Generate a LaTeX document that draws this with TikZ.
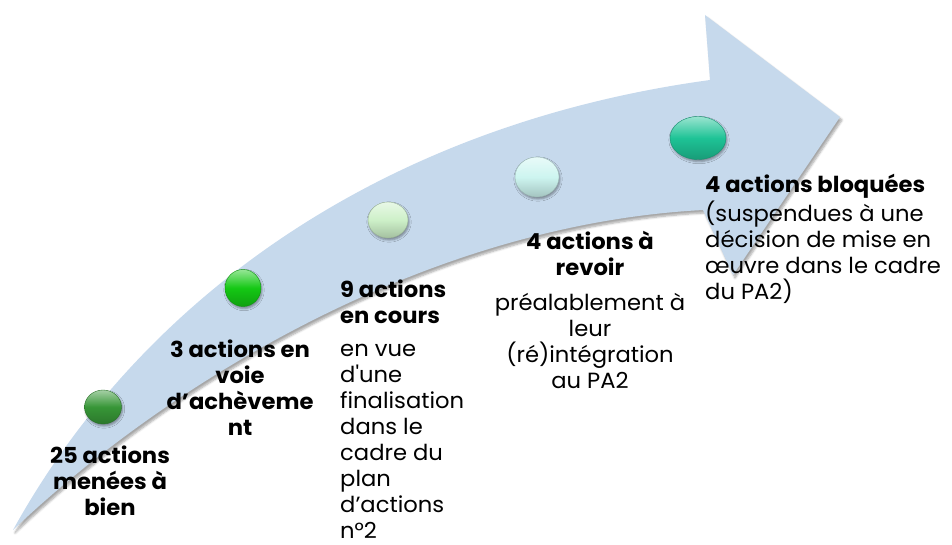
\documentclass[tikz,border=0pt]{standalone}
\usepackage{fontspec}
\setmainfont{Poppins}[Ligatures=TeXOff, FakeStretch=1.03]
\usetikzlibrary{shapes.geometric,shadows.blur}
\definecolor{arrowblue}{RGB}{198,217,236}
\definecolor{ballA}{RGB}{55,150,55}
\definecolor{ballB}{RGB}{20,200,20}
\definecolor{ballC}{RGB}{205,240,200}
\definecolor{ballD}{RGB}{205,245,240}
\definecolor{ballE}{RGB}{30,195,150}
\begin{document}
\begin{tikzpicture}[x=1pt,y=-1pt,
  lbl/.style={inner sep=0pt, text=black, font=\fontsize{22}{26}\selectfont},
  boldlbl/.style={inner sep=0pt, text=black, font=\fontsize{22}{26}\selectfont\bfseries},
  ball/.style={ellipse, inner sep=0pt, draw=#1!75!black, line width=0.4pt,
    top color=#1!45!white, bottom color=#1!80!black, middle color=#1,
    blur shadow={shadow xshift=1pt, shadow yshift=-2pt, shadow blur steps=4, shadow opacity=40}}]
\useasboundingbox (0,0) rectangle (952,545);
% arrow
\fill[arrowblue, blur shadow={shadow xshift=2pt, shadow yshift=-3pt, shadow opacity=35, shadow blur steps=6}]
  (13,530) .. controls (140,300) and (380,125) .. (710,80) -- (705,15) -- (840,117)
  -- (733,275) -- (703,210) .. controls (420,225) and (160,390) .. (13,530) -- cycle;
% balls
\node[ball=ballA, minimum width=37pt, minimum height=34pt] (b1) at (103,407) {};
\node[ball=ballB, minimum width=36pt, minimum height=37pt] (b2) at (243,288) {};
\node[ball=ballC, minimum width=40pt, minimum height=36pt] (b3) at (388,220) {};
\node[ball=ballD, minimum width=44pt, minimum height=40pt] (b4) at (537,177) {};
\node[ball=ballE, minimum width=56pt, minimum height=43pt] (b5) at (698,138) {};
% labels
\node[boldlbl, align=center] (t1) at (110,481) {25 actions\\menées à\\bien};
\node[boldlbl, align=center] (t2) at (240,388) {3 actions en\\voie\\d’achèveme\\nt};
\node[boldlbl, align=left, anchor=west] (t3) at (340,302) {9 actions\\en cours};
\node[lbl, align=left, anchor=west] (d3) at (340,441) {en vue\\d'une\\finalisation\\dans le\\cadre du\\plan\\d’actions\\n°2};
\node[boldlbl, align=center] (t4) at (590,253) {4 actions à\\revoir};
\node[lbl, align=center] (d4) at (590,341) {préalablement à\\leur\\(ré)intégration\\au PA2};
\node[boldlbl, anchor=west] (t5) at (705,186) {4 actions bloquées};
\node[lbl, align=left, anchor=west] (d5) at (705,252) {(suspendues à une\\décision de mise en\\œuvre dans le cadre\\du PA2)};
\end{tikzpicture}
\end{document}
